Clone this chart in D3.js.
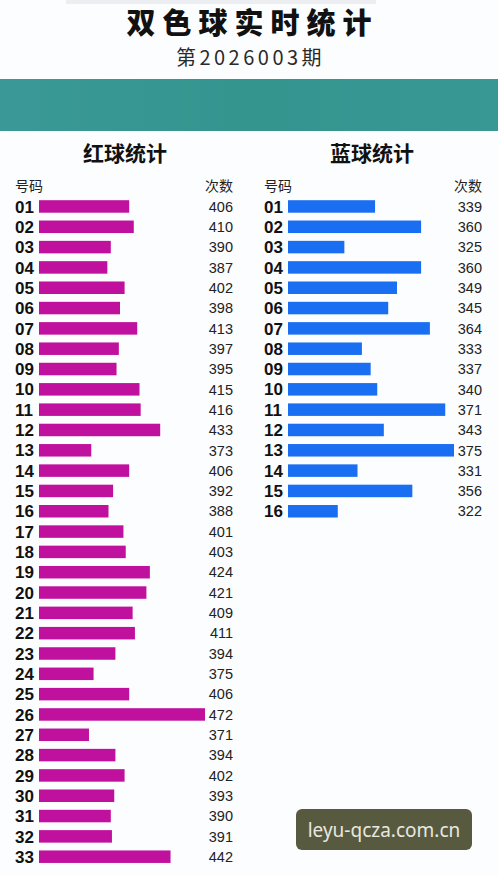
<!DOCTYPE html>
<html><head><meta charset="utf-8">
<script src="https://cdn.jsdelivr.net/npm/d3@7"></script>
<style>
html,body{margin:0;padding:0;background:#fcfdff;}
svg{display:block;font-family:"Noto Sans CJK SC","Noto Sans",sans-serif;}
</style></head>
<body><svg id="c" width="498" height="876"></svg>
<script>
const title = "双色球实时统计";
const subtitle = "第2026003期";
const redTitle = "红球统计";
const blueTitle = "蓝球统计";
const colHeaders = ["号码", "次数"];
const redNumbers = ["01","02","03","04","05","06","07","08","09","10","11","12","13","14","15","16","17","18","19","20","21","22","23","24","25","26","27","28","29","30","31","32","33"];
const redCounts = [406,410,390,387,402,398,413,397,395,415,416,433,373,406,392,388,401,403,424,421,409,411,394,375,406,472,371,394,402,393,390,391,442];
const blueNumbers = ["01","02","03","04","05","06","07","08","09","10","11","12","13","14","15","16"];
const blueCounts = [339,360,325,360,349,345,364,333,337,340,371,343,375,331,356,322];
const watermark = "leyu-qcza.com.cn";

const svg = d3.select("#c");

// faint strip at top
svg.append("rect").attr("x",66).attr("y",0).attr("width",310).attr("height",4).attr("fill","#eceef2");

// title
svg.append("text").attr("x",252.5).attr("y",33.8).attr("text-anchor","middle")
  .attr("font-size",29).attr("font-weight",900).attr("letter-spacing",7).attr("fill","#111").text(title);
svg.append("text").attr("x",250.5).attr("y",65.3).attr("text-anchor","middle")
  .attr("font-size",20).attr("letter-spacing",3.5).attr("fill","#2a2a2a").text(subtitle);

// banner
const grad = svg.append("defs").append("linearGradient").attr("id","bg").attr("x1",0).attr("x2",1);
grad.append("stop").attr("offset","0%").attr("stop-color","#3a9996");
grad.append("stop").attr("offset","50%").attr("stop-color","#34958f");
grad.append("stop").attr("offset","100%").attr("stop-color","#389894");
svg.append("rect").attr("x",0).attr("y",79).attr("width",498).attr("height",52).attr("fill","url(#bg)");

const step = 20.32, top0 = 196.3;

function panel(x0, colRight, nums, counts, domain, rng, color, ttl, titleX) {
  const g = svg.append("g");
  g.append("text").attr("x",titleX).attr("y",161).attr("text-anchor","middle")
    .attr("font-size",21).attr("font-weight",700).attr("fill","#111").text(ttl);
  g.append("text").attr("x",x0).attr("y",191).attr("font-size",14).attr("fill","#222").text(colHeaders[0]);
  g.append("text").attr("x",colRight).attr("y",191).attr("text-anchor","end").attr("font-size",14).attr("fill","#222").text(colHeaders[1]);
  const y = d3.scaleBand().domain(nums).range([top0, top0 + nums.length*step]).paddingInner(0.385).paddingOuter(0.1925);
  const x = d3.scaleLinear().domain(domain).range(rng);
  const rows = g.selectAll("g.r").data(nums.map((n,i)=>({n, v:counts[i]}))).join("g");
  rows.append("rect").attr("x",x(domain[0])).attr("y",d=>y(d.n)).attr("height",y.bandwidth())
    .attr("width",d=>x(d.v)-x(domain[0])).attr("fill",color);
  rows.append("text").attr("x",x0).attr("y",d=>y(d.n)+y.bandwidth()/2).attr("dy","0.36em")
    .attr("font-family","'Liberation Sans',Arial,sans-serif")
    .attr("font-size",17).attr("font-weight",700).attr("fill","#111").text(d=>d.n);
  rows.append("text").attr("x",colRight).attr("y",d=>y(d.n)+y.bandwidth()/2).attr("dy","0.36em")
    .attr("font-family","'Liberation Sans',Arial,sans-serif")
    .attr("text-anchor","end").attr("font-size",14.5).attr("fill","#222").text(d=>d.v);
}
panel(15, 233, redNumbers, redCounts, [327.5, 472], [39, 205], "#c0109e", redTitle, 125);
panel(264, 482, blueNumbers, blueCounts, [299.3, 375], [288, 454], "#1a6ef2", blueTitle, 372);

// watermark
svg.append("rect").attr("x",296).attr("y",809).attr("width",176).attr("height",41).attr("rx",6).attr("fill","#585a3f");
svg.append("text").attr("x",384).attr("y",830).attr("dy","0.36em").attr("text-anchor","middle")
  .attr("font-size",19).attr("fill","#e8e8e0").attr("font-family","'Noto Sans',sans-serif").text(watermark);
</script></body></html>
